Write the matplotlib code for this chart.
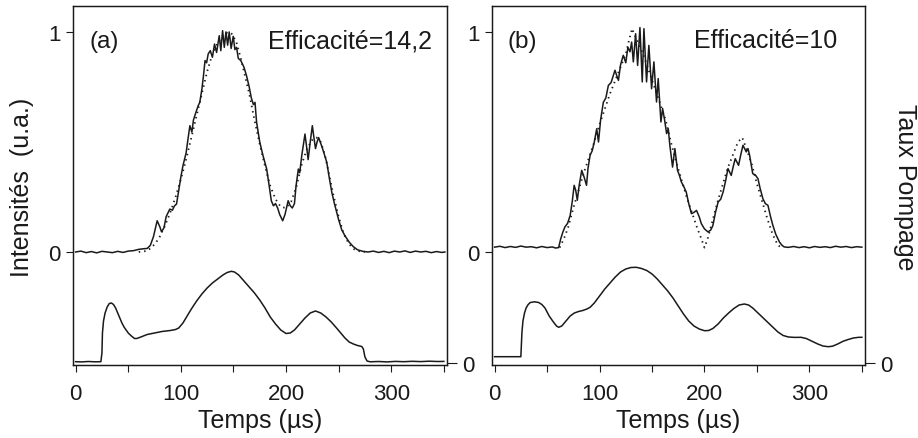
import matplotlib
matplotlib.use("Agg")
import matplotlib.pyplot as plt

plt.rcParams['font.family'] = ['Liberation Sans', 'DejaVu Sans']

# ---------------- Panel (a) : measured intensity ----------------
a_t = [0, 5, 10, 15, 20, 25, 30, 35, 40, 45, 50, 55, 60, 65, 68, 71, 74, 77.5, 80, 81.6,
       84, 86, 89.5, 92, 94, 95.9, 98, 100, 102, 105, 107, 108.6, 110.5, 112, 114, 116.5,
       118, 120, 121.5, 123, 124.5, 126, 128, 130, 132, 134, 136.5, 138, 139.7, 141.3,
       142.9, 144.5, 146, 147.8, 149.8, 151.4, 153, 154.6, 157, 160, 162.5, 165, 167, 169,
       170.5, 172, 175, 178, 181.6, 184, 186, 188, 190, 192, 194, 196.8, 199, 202, 204, 206,
       208, 209.5, 211.7, 213, 215, 218, 219.5, 221, 223, 225, 226.5, 228, 229.5, 231, 234,
       236, 238.7, 241, 243.5, 246, 249.8, 253, 256, 260, 264, 268, 273, 278, 283, 288, 293,
       298, 303, 308, 313, 318, 323, 328, 333, 338, 343, 348, 351]
a_v = [0.0, 0.004, -0.003, 0.002, -0.004, 0.003, 0.0, -0.003, 0.003, -0.002, 0.004, 0.006,
       0.012, 0.015, 0.016, 0.03, 0.07, 0.142, 0.115, 0.092,
       0.11, 0.16, 0.195, 0.19, 0.21, 0.218, 0.28, 0.34, 0.392, 0.45, 0.52, 0.574, 0.545, 0.6,
       0.63, 0.665, 0.68, 0.74, 0.8, 0.87, 0.86, 0.9, 0.915, 0.885, 0.945, 0.907, 0.983, 0.915,
       1.006, 0.93, 1.0, 0.94, 1.0, 0.925, 0.98, 0.92, 0.93, 0.88, 0.87, 0.84, 0.8, 0.75, 0.70,
       0.67, 0.68, 0.59, 0.5, 0.44, 0.377, 0.3, 0.233, 0.21, 0.22, 0.2, 0.17, 0.142, 0.17,
       0.233, 0.21, 0.2, 0.22, 0.3, 0.377, 0.36, 0.44, 0.536, 0.48, 0.42, 0.5, 0.574, 0.52,
       0.47, 0.5, 0.52, 0.48, 0.45, 0.408, 0.34, 0.271, 0.22, 0.15, 0.1, 0.074, 0.045, 0.024,
       0.01, 0.003, 0.0, 0.004, -0.002, 0.003, -0.003, 0.004, 0.0, 0.005, -0.002, 0.004, 0.0,
       0.003, -0.003, 0.002, -0.002, 0.0]

# Panel (a) : model (dotted)
fa_t = [60, 68, 72, 76, 80, 85, 90, 95, 100, 105, 110, 115, 120, 125, 130, 135, 140, 145,
        149, 153, 157, 161, 165, 170, 175, 180, 185, 190, 195, 200, 205, 210, 215, 220, 225,
        229, 233, 237, 241, 245, 250, 255, 260, 265, 270, 275]
fa_v = [0.0, 0.005, 0.02, 0.04, 0.07, 0.12, 0.18, 0.25, 0.33, 0.42, 0.52, 0.62, 0.72, 0.82,
        0.9, 0.95, 0.985, 1.0, 0.99, 0.95, 0.88, 0.8, 0.72, 0.6, 0.49, 0.39, 0.3, 0.24, 0.205,
        0.2, 0.23, 0.3, 0.4, 0.47, 0.51, 0.52, 0.5, 0.44, 0.35, 0.26, 0.16, 0.08, 0.035, 0.012,
        0.003, 0.0]

# Panel (a) : pump rate (right axis)
pa_t = [0, 6, 12, 18, 24, 25, 25.5, 26.5, 28, 30, 32, 34, 36, 38, 40, 42, 44, 46, 48, 50,
        53, 56, 58, 62, 68, 75, 82, 90, 95, 98, 102, 106, 110, 115, 120, 125, 130, 135, 140,
        144, 148, 151, 155, 160, 165, 170, 175, 180, 185, 190, 195, 200, 204, 208, 213, 218,
        223, 228, 233, 238, 243, 248, 252, 256, 260, 264, 268, 272, 273.5, 275, 277, 280,
        288, 296, 304, 312, 320, 328, 336, 344, 350]
pa_p = [0.013, 0.011, 0.015, 0.012, 0.013, 0.1, 0.3, 0.42, 0.5, 0.56, 0.595, 0.6, 0.585,
        0.55, 0.5, 0.45, 0.4, 0.36, 0.33, 0.3, 0.27, 0.245, 0.245, 0.26, 0.285, 0.3, 0.315,
        0.325, 0.335, 0.35, 0.4, 0.47, 0.54, 0.62, 0.69, 0.75, 0.8, 0.84, 0.88, 0.905, 0.917,
        0.91, 0.88, 0.82, 0.76, 0.7, 0.63, 0.55, 0.46, 0.39, 0.33, 0.295, 0.3, 0.33, 0.39,
        0.45, 0.5, 0.52, 0.5, 0.46, 0.41, 0.35, 0.3, 0.25, 0.21, 0.19, 0.175, 0.165, 0.14,
        0.06, 0.02, 0.012, 0.015, 0.011, 0.016, 0.013, 0.017, 0.014, 0.018, 0.015, 0.016]

# ---------------- Panel (b) ----------------
b_t = [0, 5, 10, 15, 20, 25, 30, 35, 40, 45, 50, 55, 58, 61, 63, 65, 67, 69.5, 72, 74, 75.8,
       77.3, 78.8, 80.5, 83, 85.3, 87.6, 89, 91, 93, 95, 97.3, 99, 101, 103.6, 106, 108.4, 111,
       114.7, 116.5, 118, 120, 122.6, 125, 127, 129, 130.6, 132.2, 134.4, 136.3, 138.5, 140.7,
       142.3, 144.8, 147, 149.6, 151.8, 154.3, 155.9, 158.5, 160.1, 162, 163.9, 165.5, 167,
       169.6, 171.8, 174.3, 176, 178, 180, 182.6, 185, 187.6, 190, 192.4, 195, 197, 200, 203.4,
       206, 208, 210.5, 213, 215.5, 217.8, 220, 222.4, 225.5, 227.5, 229.3, 232.5, 234.5,
       236.7, 239.8, 241.5, 243, 246, 248.5, 251, 253, 255.7, 258, 260.5, 263, 265.2, 268,
       271.5, 274, 276, 280, 285, 290, 295, 300, 305, 310, 315, 320, 325, 330, 335, 340, 345,
       350]
b_v = [0.022, 0.026, 0.02, 0.025, 0.021, 0.027, 0.022, 0.024, 0.019, 0.025, 0.02, 0.023,
       0.018, 0.02, 0.06, 0.09, 0.114, 0.13, 0.166, 0.23, 0.303, 0.28, 0.235, 0.3, 0.371, 0.34,
       0.303, 0.38, 0.44, 0.46, 0.5, 0.56, 0.5, 0.6, 0.68, 0.7, 0.757, 0.77, 0.826, 0.8, 0.78,
       0.85, 0.894, 0.86, 0.93, 0.91, 0.954, 0.864, 0.992, 0.848, 1.02, 0.773, 1.015, 0.773,
       0.939, 0.742, 0.864, 0.682, 0.788, 0.591, 0.652, 0.6, 0.538, 0.56, 0.485, 0.386, 0.47,
       0.371, 0.35, 0.318, 0.3, 0.273, 0.22, 0.174, 0.18, 0.189, 0.16, 0.129, 0.105, 0.091,
       0.1, 0.12, 0.18, 0.227, 0.24, 0.273, 0.32, 0.379, 0.348, 0.39, 0.424, 0.394, 0.44,
       0.485, 0.455, 0.47, 0.44, 0.356, 0.35, 0.333, 0.29, 0.242, 0.22, 0.212, 0.16, 0.121,
       0.08, 0.045, 0.03, 0.023, 0.021, 0.025, 0.02, 0.024, 0.019, 0.025, 0.021, 0.024, 0.02,
       0.026, 0.022, 0.025, 0.02, 0.024, 0.022]

fb_t = [62, 66, 70, 75, 80, 85, 90, 95, 100, 105, 110, 115, 120, 125, 128, 131, 134, 138,
        143, 148, 153, 158, 163, 168, 173, 178, 183, 188, 193, 197, 200, 203, 207, 212, 217,
        222, 227, 232, 236, 240, 245, 250, 255, 260, 265, 270, 274]
fb_v = [0.02, 0.06, 0.11, 0.2, 0.28, 0.36, 0.43, 0.5, 0.58, 0.65, 0.72, 0.78, 0.84, 0.9,
        0.96, 1.015, 0.98, 0.94, 0.88, 0.81, 0.74, 0.67, 0.6, 0.5, 0.41, 0.33, 0.25, 0.18,
        0.11, 0.06, 0.02, 0.06, 0.13, 0.22, 0.3, 0.38, 0.44, 0.5, 0.52, 0.47, 0.4, 0.31, 0.23,
        0.15, 0.08, 0.03, 0.02]

pb_t = [0, 8, 16, 25, 26, 27, 28.5, 30, 32, 34, 38, 42, 45, 48, 52, 56, 59, 61, 64, 68, 72,
        76, 80, 84, 88, 91, 95, 100, 105, 110, 115, 120, 125, 130, 135, 140, 145, 150, 155,
        160, 165, 170, 175, 180, 185, 190, 195, 200, 204, 208, 213, 218, 223, 228, 233, 238,
        242, 246, 250, 255, 260, 265, 270, 275, 280, 286, 292, 297, 302, 308, 313, 318, 322,
        327, 332, 337, 342, 347, 350]
pb_p = [0.063, 0.063, 0.063, 0.063, 0.3, 0.42, 0.5, 0.55, 0.585, 0.605, 0.612, 0.605,
        0.585, 0.55, 0.47, 0.41, 0.37, 0.357, 0.37, 0.42, 0.47, 0.5, 0.515, 0.525, 0.54,
        0.557, 0.6, 0.67, 0.74, 0.8, 0.86, 0.91, 0.94, 0.955, 0.957, 0.945, 0.925, 0.89, 0.84,
        0.78, 0.72, 0.65, 0.57, 0.49, 0.42, 0.37, 0.34, 0.323, 0.325, 0.345, 0.39, 0.45, 0.5,
        0.545, 0.58, 0.59, 0.58, 0.55, 0.51, 0.46, 0.41, 0.36, 0.31, 0.275, 0.26, 0.256,
        0.257, 0.245, 0.22, 0.19, 0.17, 0.163, 0.168, 0.19, 0.217, 0.235, 0.25, 0.257, 0.257]

panels = [
    dict(left=73, right=447, t=a_t, v=a_v, ft=fa_t, fv=fa_v, pt=pa_t, pp=pa_p,
         tag="(a)", eff="Efficacité=14,2", tag_x=13.3, eff_x=339),
    dict(left=492, right=865, t=b_t, v=b_v, ft=fb_t, fv=fb_v, pt=pb_t, pp=pb_p,
         tag="(b)", eff="Efficacité=10", tag_x=11.8, eff_x=327),
]

W, H = 918, 439
fig = plt.figure(figsize=(W / 100, H / 100), dpi=100)

top_px, bot_px = 7, 366
for p in panels:
    ax = fig.add_axes([p['left'] / W, 1 - bot_px / H, (p['right'] - p['left']) / W,
                       (bot_px - top_px) / H])
    ax.plot(p['t'], p['v'], color='#1a1a1a', lw=1.1)
    ax.plot(p['ft'], p['fv'], color='#1a1a1a', lw=1.3, linestyle=(0, (0.8, 2.2)))
    ax.set_xlim(-2.5, 353)
    ax.set_ylim(-0.5136, 1.118)
    ax.set_yticks([0, 1])
    ax.set_yticklabels(['0', '1'])
    ax.set_xticks([0, 50, 100, 150, 200, 250, 300, 350])
    ax.set_xticklabels(['0', '', '100', '', '200', '', '300', ''])
    ax.tick_params(axis='x', direction='out', length=5, width=0.8, labelsize=16, pad=8,
                   colors='#1a1a1a')
    ax.tick_params(axis='y', direction='out', length=5, width=0.8, labelsize=16, pad=4,
                   colors='#1a1a1a')
    for s in ax.spines.values():
        s.set_linewidth(0.9)
        s.set_color('#1a1a1a')
    ax.set_xlabel('Temps (µs)', fontsize=18, labelpad=3, color='#1a1a1a')
    ax.text(p['tag_x'], 0.93, p['tag'], fontsize=17.5, ha='left', va='baseline',
            color='#1a1a1a')
    ax.text(p['eff_x'], 0.93, p['eff'], fontsize=18, ha='right', va='baseline',
            color='#1a1a1a')

    ax2 = ax.twinx()
    ax2.plot(p['pt'], p['pp'], color='#1a1a1a', lw=1.1)
    ax2.set_ylim(-0.02, 3.57)
    ax2.set_yticks([0])
    ax2.set_yticklabels(['0'])
    ax2.tick_params(direction='out', length=7, width=0.8, labelsize=16, pad=4,
                    colors='#1a1a1a')
    for s in ax2.spines.values():
        s.set_linewidth(0.9)
        s.set_color('#1a1a1a')

fig.text(22 / W, 1 - 187 / H, 'Intensités  (u.a.)', rotation=90, fontsize=18,
         ha='center', va='center', color='#1a1a1a')
fig.text(905 / W, 1 - 187 / H, 'Taux Pompage', rotation=270, fontsize=18,
         ha='center', va='center', color='#1a1a1a')

fig.savefig('out.png', dpi=100)
